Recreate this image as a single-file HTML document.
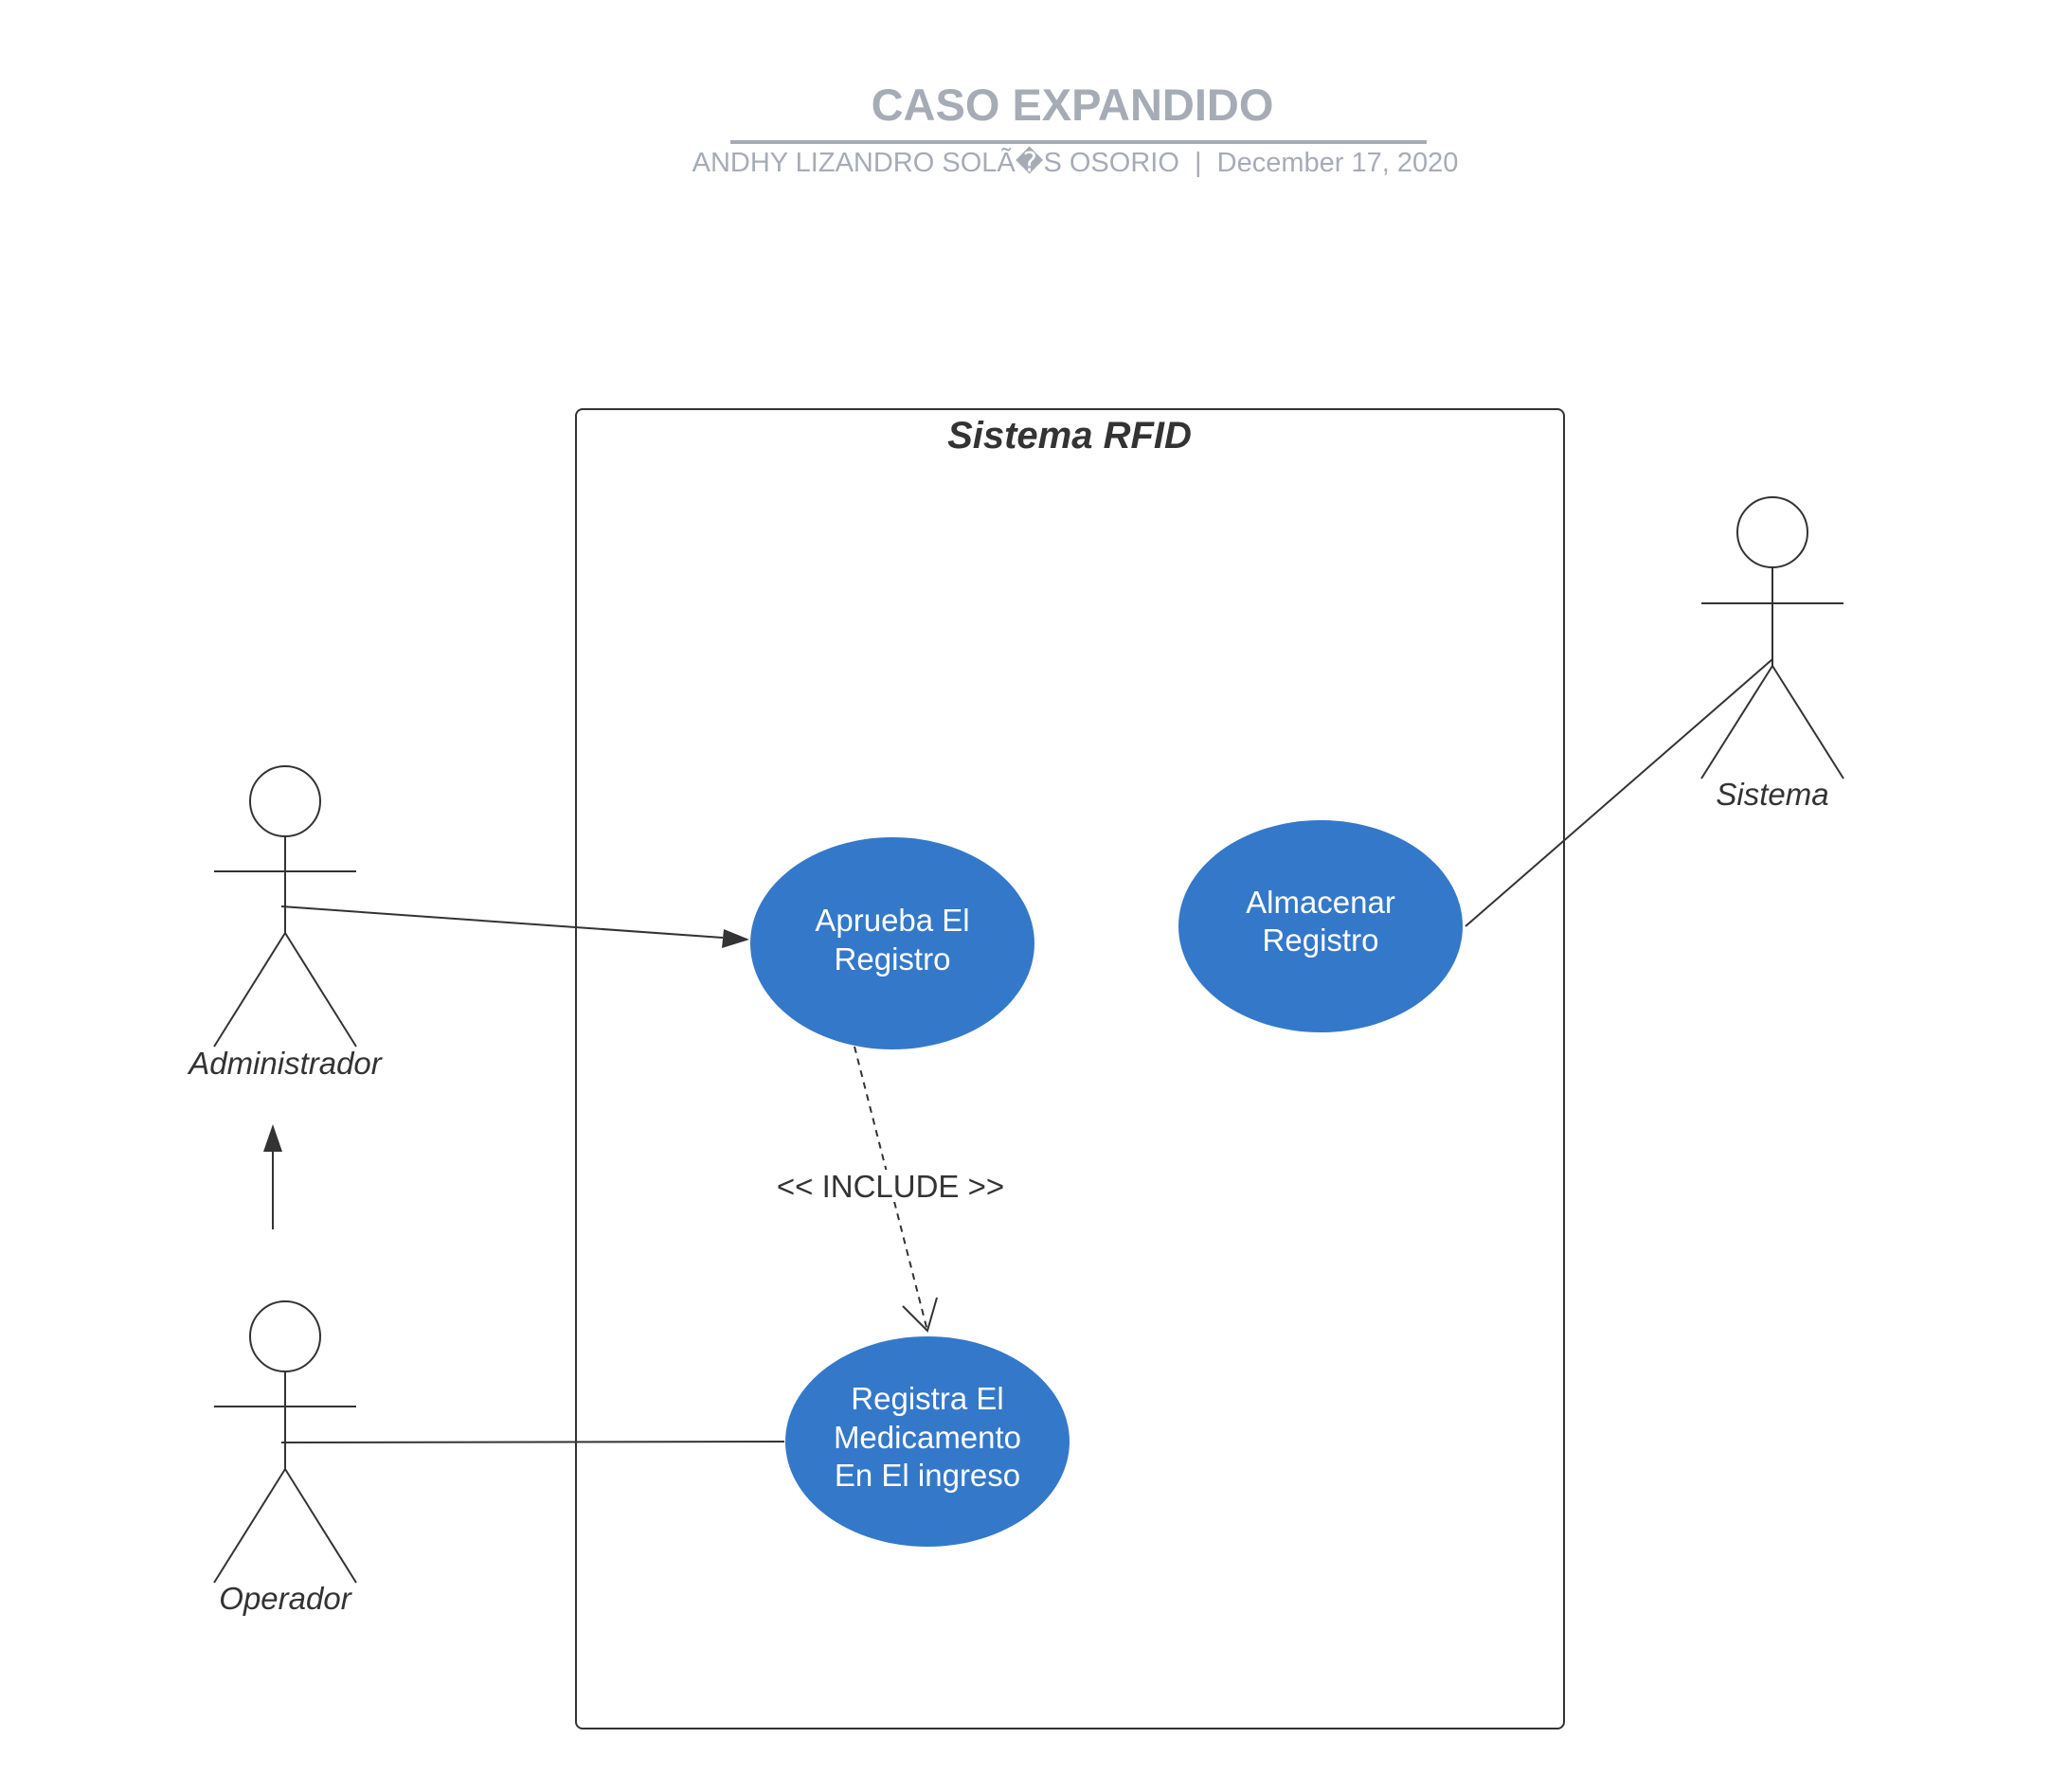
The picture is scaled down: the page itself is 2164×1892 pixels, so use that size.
<!DOCTYPE html>
<html><head><meta charset="utf-8"><style>
html,body{margin:0;padding:0;background:#fff;}
svg{display:block}
</style></head><body>
<svg width="2164" height="1892" viewBox="0 0 2164 1892" xmlns="http://www.w3.org/2000/svg" font-family="Liberation Sans, sans-serif">
<text x="1132" y="127" text-anchor="middle" font-size="47" font-weight="bold" fill="#a6acb6">CASO EXPANDIDO</text>
<rect x="771" y="148" width="735" height="4" fill="#a6acb6"/>
<text x="1135" y="181" text-anchor="middle" font-size="29" fill="#a6acb6" xml:space="preserve">ANDHY LIZANDRO SOLÃ�S OSORIO  |  December 17, 2020</text>

<rect x="608" y="432" width="1043" height="1393" rx="7" fill="none" stroke="#333" stroke-width="2"/>
<text x="1129" y="473" text-anchor="middle" font-size="40" font-weight="bold" font-style="italic" fill="#333">Sistema RFID</text>

<g stroke="#333" stroke-width="2" fill="none">
<circle cx="301" cy="846" r="37"/>
<line x1="301" y1="883" x2="301" y2="985"/>
<line x1="226" y1="920" x2="376" y2="920"/>
<line x1="301" y1="985" x2="226" y2="1105"/>
<line x1="301" y1="985" x2="376" y2="1105"/>
<circle cx="301" cy="1411" r="37"/>
<line x1="301" y1="1448" x2="301" y2="1551"/>
<line x1="226" y1="1485" x2="376" y2="1485"/>
<line x1="301" y1="1551" x2="226" y2="1671"/>
<line x1="301" y1="1551" x2="376" y2="1671"/>
<circle cx="1871" cy="562" r="37"/>
<line x1="1871" y1="599" x2="1871" y2="703"/>
<line x1="1796" y1="637" x2="1946" y2="637"/>
<line x1="1871" y1="703" x2="1796" y2="822"/>
<line x1="1871" y1="703" x2="1946" y2="822"/>
<line x1="297" y1="957" x2="763" y2="990"/>
<line x1="297" y1="1523" x2="828" y2="1522"/>
<line x1="1871" y1="696" x2="1547" y2="978"/>
<line x1="288" y1="1298" x2="288" y2="1215"/>
<line x1="902" y1="1105" x2="979" y2="1405" stroke-dasharray="7,6"/>
<polyline points="953,1379 979,1405 989,1370"/>
</g>
<polygon points="791,992 762,1001 764,981" fill="#333"/>
<polygon points="288,1187 278,1216 298,1216" fill="#333"/>

<g fill="#3478c9">
<ellipse cx="942" cy="996" rx="150" ry="112"/>
<ellipse cx="1394" cy="978" rx="150" ry="112"/>
<ellipse cx="979" cy="1522" rx="150" ry="111"/>
</g>
<g fill="#fff" font-size="33" text-anchor="middle">
<text x="942" y="983">Aprueba El</text>
<text x="942" y="1024">Registro</text>
<text x="1394" y="964">Almacenar</text>
<text x="1394" y="1004">Registro</text>
<text x="979" y="1488">Registra El</text>
<text x="979" y="1529">Medicamento</text>
<text x="979" y="1569">En El ingreso</text>
</g>
<rect x="926" y="1235" width="34" height="34" fill="#fff"/>
<text x="940" y="1264" text-anchor="middle" font-size="33" fill="#333">&lt;&lt; INCLUDE &gt;&gt;</text>
<g fill="#333" font-size="33" font-style="italic" text-anchor="middle">
<text x="301" y="1134">Administrador</text>
<text x="301" y="1699">Operador</text>
<text x="1871" y="850">Sistema</text>
</g>
</svg>
</body></html>
